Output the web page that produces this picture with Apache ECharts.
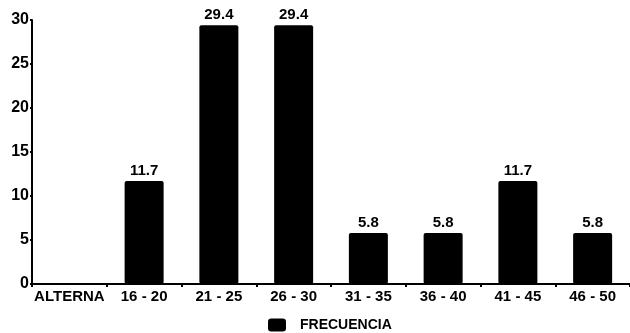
<!DOCTYPE html>
<html>
<head>
<meta charset="utf-8">
<script src="https://cdn.jsdelivr.net/npm/echarts@6/dist/echarts.min.js"></script>
<style>
  html, body { margin: 0; padding: 0; background: #fff; }
  #main { width: 630px; height: 333px; }
</style>
</head>
<body>
<div id="main"></div>
<script>
// edad por grupos, frecuencia (%)
const categories = ["ALTERNA", "16 - 20", "21 - 25", "26 - 30", "31 - 35", "36 - 40", "41 - 45", "46 - 50"];
const frecuencia = ["-", 11.7, 29.4, 29.4, 5.8, 5.8, 11.7, 5.8];
const yTicks = [0, 5, 10, 15, 20, 25, 30];

const font = "'Liberation Sans', Arial, sans-serif";

const options = {
  animation: false,
  backgroundColor: "#fff",
  grid: { left: 32, top: 20, width: 600, bottom: 49 },
  legend: {
    left: 268,
    top: 318,
    padding: 0,
    icon: "roundRect",
    itemWidth: 18,
    itemHeight: 13,
    itemGap: 10,
    textStyle: { fontFamily: font, fontWeight: "bold", fontSize: 14, color: "#000", padding: [0, 0, 0, 9] },
    data: ["FRECUENCIA"]
  },
  xAxis: {
    type: "category",
    data: categories,
    axisLine: { lineStyle: { color: "#000", width: 2 } },
    axisTick: { show: true, length: 3, lineStyle: { color: "#000", width: 2 } },
    axisLabel: { interval: 0, color: "#000", fontFamily: font, fontWeight: "bold", fontSize: 15, margin: 5 }
  },
  yAxis: {
    type: "value",
    min: yTicks[0],
    max: yTicks[yTicks.length - 1],
    interval: 5,
    splitLine: { show: false },
    axisLine: { show: true, lineStyle: { color: "#000", width: 2 } },
    axisTick: { show: true, length: 2, lineStyle: { color: "#000", width: 2 } },
    axisLabel: { color: "#000", fontFamily: font, fontWeight: "bold", fontSize: 16, margin: 3 }
  },
  series: [
    {
      name: "FRECUENCIA",
      type: "bar",
      data: frecuencia,
      barWidth: 39,
      itemStyle: { color: "#000", borderRadius: 2 },
      label: {
        show: true,
        position: "top",
        distance: 3,
        color: "#000",
        fontFamily: font,
        fontWeight: "bold",
        fontSize: 15
      }
    }
  ]
};

var myChart = echarts.init(document.getElementById("main"));
myChart.setOption(options);
</script>
</body>
</html>
